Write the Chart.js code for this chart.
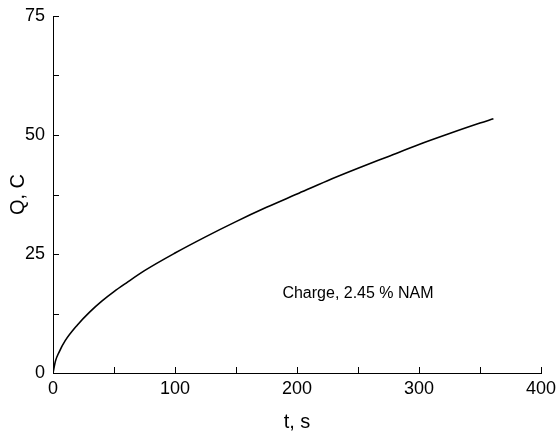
<!DOCTYPE html>
<html>
<head>
<meta charset="utf-8">
<script src="https://cdn.jsdelivr.net/npm/chart.js@4"></script>
<style>
  html, body { margin: 0; padding: 0; background: #fff; }
  #wrap { width: 557px; height: 434px; }
</style>
</head>
<body>
<div id="wrap"><canvas id="chargeChart"></canvas></div>
<script>
// Charge curve
const timeSec = [0, 2, 5, 10, 20, 30, 40, 50, 60, 75, 100, 125, 150, 175, 200, 225, 250, 275, 300, 325, 350, 361];
const chargeC = [0, 2.5, 4.4, 6.8, 10.1, 12.8, 15.1, 17.1, 18.9, 21.5, 25.2, 28.6, 31.8, 34.8, 37.6, 40.4, 43.0, 45.5, 48.0, 50.3, 52.5, 53.4];

// Axis ticks (major get labels, minor are just marks)
const xMajor = [0, 100, 200, 300, 400];
const xMinor = [50, 150, 250, 350];
const yMajor = [0, 25, 50, 75];
const yMinor = [12.5, 37.5, 62.5];

const noteText = 'Charge, 2.45 % NAM';
const notePos = { x: 250, y: 16.6 };

const FONT = '"Liberation Sans", Arial, Helvetica, sans-serif';

// inward tick marks + the text note
const innerTicks = {
    id: 'innerTicks',
    afterDraw(chart) {
        const ctx = chart.ctx;
        const xs = chart.scales.x, ys = chart.scales.y;
        const len = 6;
        ctx.save();
        ctx.strokeStyle = '#000';
        ctx.lineWidth = 1;
        ctx.beginPath();
        xMajor.concat(xMinor).forEach(function(v) {
            const px = Math.round(xs.getPixelForValue(v)) + 0.5;
            ctx.moveTo(px, ys.bottom);
            ctx.lineTo(px, ys.bottom - len);
        });
        yMajor.concat(yMinor).forEach(function(v) {
            const py = Math.round(ys.getPixelForValue(v)) + 0.5;
            ctx.moveTo(xs.left, py);
            ctx.lineTo(xs.left + len, py);
        });
        ctx.stroke();

        ctx.fillStyle = '#000';
        ctx.font = '16px ' + FONT;
        ctx.textAlign = 'center';
        ctx.textBaseline = 'middle';
        ctx.fillText(noteText, xs.getPixelForValue(notePos.x), ys.getPixelForValue(notePos.y));
        ctx.restore();
    }
};

const points = timeSec.map(function(t, i) { return { x: t, y: chargeC[i] }; });

new Chart(document.getElementById('chargeChart').getContext('2d'), {
    type: 'line',
    data: {
        datasets: [{
            data: points,
            borderColor: '#000',
            borderWidth: 1.6,
            pointRadius: 0,
            fill: false,
            cubicInterpolationMode: 'monotone'
        }]
    },
    options: {
        responsive: true,
        maintainAspectRatio: false,
        animation: false,
        layout: { padding: { top: 16, right: 16, left: 0, bottom: 0 } },
        plugins: {
            legend: { display: false },
            tooltip: { enabled: false }
        },
        scales: {
            x: {
                type: 'linear',
                min: 0,
                max: 400,
                afterBuildTicks: function(scale) {
                    scale.ticks = xMajor.map(function(v) { return { value: v }; });
                },
                afterFit: function(scale) {
                    scale.height = 61;
                    scale.paddingLeft = 0;
                    scale.paddingRight = 0;
                },
                grid: { display: false, drawTicks: false },
                border: { display: true, color: '#000', width: 1 },
                ticks: {
                    color: '#000',
                    padding: 5,
                    maxRotation: 0,
                    font: { family: FONT, size: 18 }
                },
                title: {
                    display: true,
                    text: 't, s',
                    color: '#000',
                    padding: { top: 0, bottom: 0 },
                    font: { family: FONT, size: 20 }
                }
            },
            y: {
                type: 'linear',
                min: 0,
                max: 75,
                afterBuildTicks: function(scale) {
                    scale.ticks = yMajor.map(function(v) { return { value: v }; });
                },
                afterFit: function(scale) {
                    scale.width = 53;
                    scale.paddingTop = 0;
                    scale.paddingBottom = 0;
                },
                grid: { display: false, drawTicks: false },
                border: { display: true, color: '#000', width: 1 },
                ticks: {
                    color: '#000',
                    padding: 8,
                    font: { family: FONT, size: 18 }
                },
                title: {
                    display: true,
                    text: 'Q, C',
                    color: '#000',
                    padding: { top: 6, bottom: 0 },
                    font: { family: FONT, size: 20 }
                }
            }
        }
    },
    plugins: [innerTicks]
});
</script>
</body>
</html>
